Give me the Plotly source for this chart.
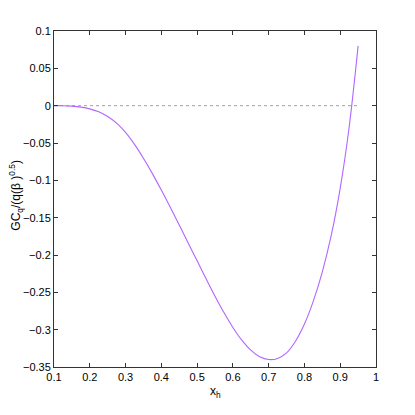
import plotly.graph_objects as go

# values
x_h = [0.100, 0.125, 0.150, 0.175, 0.200, 0.225, 0.250, 0.275, 0.300, 0.325,
       0.350, 0.375, 0.400, 0.425, 0.450, 0.475, 0.500, 0.525, 0.550, 0.575,
       0.600, 0.625, 0.650, 0.675, 0.700, 0.725, 0.750, 0.775, 0.800, 0.825,
       0.850, 0.875, 0.900, 0.925, 0.950]
gc = [0.0, -0.0001, -0.0006, -0.0019, -0.0043, -0.0083, -0.0145, -0.0234, -0.0358, -0.0518,
      -0.0704, -0.091, -0.1131, -0.1362, -0.1599, -0.1838, -0.2078, -0.2317, -0.2551, -0.2771,
      -0.297, -0.3141, -0.3275, -0.3363, -0.340, -0.3385, -0.331, -0.3155, -0.2925, -0.2615,
      -0.2225, -0.1735, -0.1105, -0.0285, 0.080]

zero_x = [0.10, 0.95]
zero_y = [0.0, 0.0]

x_ticks = [0.1, 0.2, 0.3, 0.4, 0.5, 0.6, 0.7, 0.8, 0.9, 1.0]
y_ticks = [-0.35, -0.3, -0.25, -0.2, -0.15, -0.1, -0.05, 0, 0.05, 0.1]

font = dict(family="Liberation Sans, Arial, sans-serif", size=11, color="black")

fig = go.Figure()
fig.add_trace(go.Scatter(x=zero_x, y=zero_y, mode="lines",
                         line=dict(color="#a0a0a0", width=1, dash="dot"),
                         hoverinfo="skip"))
fig.add_trace(go.Scatter(x=x_h, y=gc, mode="lines",
                         line=dict(color="#b266ff", width=1.1, shape="spline", smoothing=1)))

axis = dict(showline=True, mirror="ticks", linecolor="#333", linewidth=1,
            ticks="inside", ticklen=4, tickcolor="#333", showgrid=False,
            zeroline=False, tickfont=font)

# page body has an 8px margin, so the figure margins are shifted to put
# the plot box where the reference has it
fig.update_layout(
    width=415, height=415,
    margin=dict(l=46, r=47, t=23, b=56),
    plot_bgcolor="white", paper_bgcolor="white",
    showlegend=False,
    xaxis=dict(axis, range=[0.1, 1.0], tickvals=x_ticks,
               ticktext=["0.1", "0.2", "0.3", "0.4", "0.5", "0.6", "0.7", "0.8", "0.9", "1"]),
    yaxis=dict(axis, range=[-0.35, 0.1], tickvals=y_ticks,
               ticktext=["\u22120.35", "\u22120.3", "\u22120.25", "\u22120.2", "\u22120.15",
                         "\u22120.1", "\u22120.05", "0", "0.05", "0.1"]),
    annotations=[
        dict(text="x<sub>h</sub>", xref="paper", yref="paper", x=0.5, y=-0.075,
             showarrow=False, font=dict(font, size=12), xanchor="center", yanchor="middle"),
        dict(text="GC<sub>q</sub>/(q(\u03b2 )<sup>0.5</sup>)", xref="paper", yref="paper",
             x=-0.118, y=0.51, textangle=-90, showarrow=False, font=dict(font, size=12),
             xanchor="center", yanchor="middle"),
    ],
)

fig.write_html("out.html")
